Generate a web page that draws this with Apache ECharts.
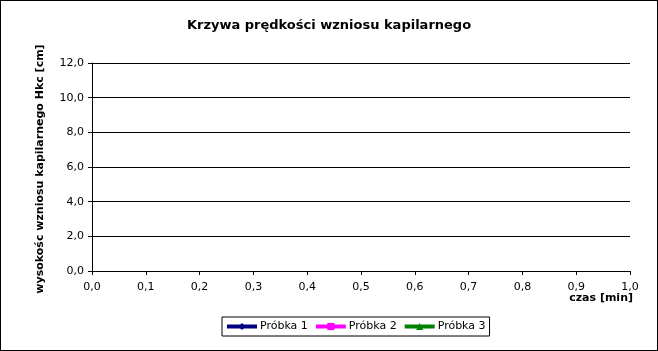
<!DOCTYPE html>
<html>
<head>
<meta charset="utf-8">
<script src="https://cdn.jsdelivr.net/npm/echarts@6/dist/echarts.min.js"></script>
<style>
  body { margin: 0; background: #fff; }
  #chart { width: 658px; height: 351px; box-sizing: border-box; border: 1px solid #000; }
</style>
</head>
<body>
<div id="chart"></div>
<script>
// dane wykresu (seria pusta - brak pomiarów w arkuszu)
const seriesNames = ['Próbka 1', 'Próbka 2', 'Próbka 3'];
const seriesColors = ['#000080', '#ff00ff', '#008000'];
const seriesSymbols = ['diamond', 'rect', 'triangle'];
const probka1 = [];
const probka2 = [];
const probka3 = [];
const xTicks = [0, 0.1, 0.2, 0.3, 0.4, 0.5, 0.6, 0.7, 0.8, 0.9, 1.0];
const yTicks = [0, 2, 4, 6, 8, 10, 12];

const font = 'DejaVu Sans';
const myChart = echarts.init(document.getElementById('chart'));

const seriesData = [probka1, probka2, probka3];

const option = {
    animation: false,
    textStyle: { fontFamily: font },
    title: {
        text: 'Krzywa prędkości wzniosu kapilarnego',
        left: 'center',
        top: 13,
        textStyle: { fontFamily: font, fontWeight: 'bold', fontSize: 13, color: '#000' }
    },
    grid: { left: 91, right: 27, top: 62, bottom: 79 },
    legend: {
        left: 221,
        top: 316,
        padding: [4, 4, 4, 3],
        itemWidth: 30,
        itemHeight: 9,
        itemGap: 6,
        borderColor: '#000',
        borderWidth: 1,
        borderRadius: 0,
        backgroundColor: '#fff',
        lineStyle: { width: 4 },
        textStyle: { fontFamily: font, fontSize: 11, color: '#000', padding: [0, 0, 0, -2] },
        data: seriesNames
    },
    xAxis: {
        type: 'value',
        min: xTicks[0],
        max: xTicks[xTicks.length - 1],
        interval: 0.1,
        name: 'czas [min]',
        nameLocation: 'end',
        nameGap: 3,
        nameTextStyle: {
            fontFamily: font, fontWeight: 'bold', fontSize: 11, color: '#000',
            align: 'right', verticalAlign: 'top', padding: [22, 0, 0, 0]
        },
        axisLine: { lineStyle: { color: '#000', width: 1 } },
        axisTick: { show: true, length: 4, lineStyle: { color: '#000' } },
        axisLabel: {
            margin: 11, fontSize: 11, color: '#000', fontFamily: font,
            formatter: v => v.toFixed(1).replace('.', ',')
        },
        splitLine: { show: false }
    },
    yAxis: {
        type: 'value',
        min: yTicks[0],
        max: yTicks[yTicks.length - 1],
        interval: 2,
        name: 'wysokośc wzniosu kapilarnego Hkc [cm]',
        nameLocation: 'middle',
        nameGap: 46,
        nameTextStyle: { fontFamily: font, fontWeight: 'bold', fontSize: 11, color: '#000', padding: [0, 4, 0, 0] },
        axisLine: { show: true, lineStyle: { color: '#000', width: 1 } },
        axisTick: { show: true, length: 4, lineStyle: { color: '#000' } },
        axisLabel: {
            margin: 8, fontSize: 11, color: '#000', fontFamily: font,
            formatter: v => v.toFixed(1).replace('.', ',')
        },
        splitLine: { show: true, lineStyle: { color: '#000', width: 1 } }
    },
    series: seriesNames.map((name, i) => ({
        name: name,
        type: 'line',
        data: seriesData[i],
        symbol: seriesSymbols[i],
        symbolSize: 8,
        lineStyle: { width: 4, color: seriesColors[i] },
        itemStyle: { color: seriesColors[i] }
    }))
};

myChart.setOption(option);
</script>
</body>
</html>
